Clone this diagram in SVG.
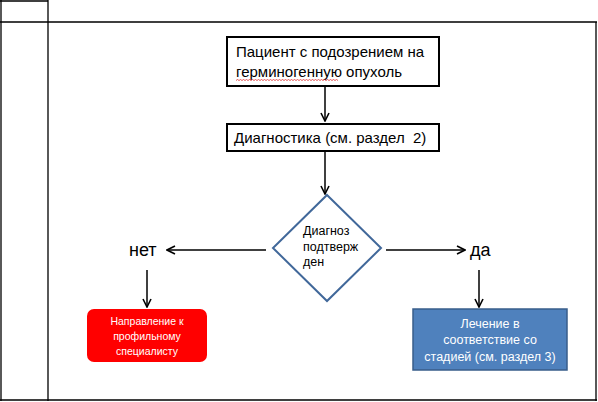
<svg xmlns="http://www.w3.org/2000/svg" width="598" height="402" viewBox="0 0 598 402">
<defs>
<marker id="ah" viewBox="0 0 10 10" refX="9" refY="5" markerWidth="10" markerHeight="10" markerUnits="userSpaceOnUse" orient="auto">
<path d="M1,1 L9,5 L1,9" fill="none" stroke="#000" stroke-width="1.6"/>
</marker>
</defs>
<style>
.t{font-family:"Liberation Sans",Arial,sans-serif;fill:#000}
.w{font-family:"Liberation Sans",Arial,sans-serif;fill:#fff;text-anchor:middle}
.box{fill:#fff;stroke:#000;stroke-width:2}
.ln{fill:none;stroke:#000;stroke-width:1.5}
.grid{fill:none;stroke:#000;stroke-width:1.3}
</style>
<rect width="598" height="402" fill="#fff"/>
<g id="table">
<path class="grid" d="M0,1 H48 M1,0 V401 M48,0 V401 M0,22 H597 M596,22 V401 M0,400 H597"/>
</g>
<g id="connectors">
<path class="ln" d="M325,86 V121" marker-end="url(#ah)"/>
<path class="ln" d="M325,152 V194" marker-end="url(#ah)"/>
<path class="ln" d="M266,250 H167" marker-end="url(#ah)"/>
<path class="ln" d="M386,250 H465" marker-end="url(#ah)"/>
<path class="ln" d="M147,270 V307" marker-end="url(#ah)"/>
<path class="ln" d="M479,270 V307" marker-end="url(#ah)"/>
</g>
<g id="node-patient">
<rect class="box" x="227" y="37" width="212" height="49"/>
<text class="t" font-size="15" x="236" y="57">Пациент с подозрением на</text>
<text class="t" font-size="15" x="236" y="77">герминогенную опухоль</text>
<path d="M236,80.5 l1.5,-1 l1.5,1 l1.5,-1 l1.5,1 l1.5,-1 l1.5,1 l1.5,-1 l1.5,1 l1.5,-1 l1.5,1 l1.5,-1 l1.5,1 l1.5,-1 l1.5,1 l1.5,-1 l1.5,1 l1.5,-1 l1.5,1 l1.5,-1 l1.5,1 l1.5,-1 l1.5,1 l1.5,-1 l1.5,1 l1.5,-1 l1.5,1 l1.5,-1 l1.5,1 l1.5,-1 l1.5,1 l1.5,-1 l1.5,1 l1.5,-1 l1.5,1 l1.5,-1 l1.5,1 l1.5,-1 l1.5,1 l1.5,-1 l1.5,1 l1.5,-1 l1.5,1 l1.5,-1 l1.5,1 l1.5,-1 l1.5,1 l1.5,-1 l1.5,1 l1.5,-1 l1.5,1 l1.5,-1 l1.5,1 l1.5,-1 l1.5,1 l1.5,-1 l1.5,1 l1.5,-1 l1.5,1 l1.5,-1 l1.5,1 l1.5,-1 l1.5,1 l1.5,-1 l1.5,1 l1.5,-1 l1.5,1 l1.5,-1 l1.5,1" fill="none" stroke="#e03030" stroke-width="0.8"/>
</g>
<g id="node-diagnostics">
<rect class="box" x="227" y="124" width="212" height="27"/>
<text class="t" font-size="15" x="234" y="143" xml:space="preserve">Диагностика (см. раздел  2)</text>
</g>
<g id="node-decision">
<polygon points="327,195 381,248 327,301 273,248" fill="#fff" stroke="#41689a" stroke-width="2"/>
<text class="t" font-size="12.5" x="303" y="235">Диагноз</text>
<text class="t" font-size="12.5" x="303" y="251">подтверж</text>
<text class="t" font-size="12.5" x="303" y="266">ден</text>
</g>
<g id="label-no">
<text class="t" font-size="18" x="129" y="256">нет</text>
</g>
<g id="label-yes">
<text class="t" font-size="18" x="470" y="256">да</text>
</g>
<g id="node-referral">
<rect x="87" y="309" width="120" height="53" rx="7" fill="#ff0000"/>
<text class="w" font-size="10.5" x="147" y="325">Направление к</text>
<text class="w" font-size="10.5" x="147" y="340">профильному</text>
<text class="w" font-size="10.5" x="147" y="355">специалисту</text>
</g>
<g id="node-treatment">
<rect x="413" y="309" width="154" height="61" fill="#4f81bd" stroke="#385d8a" stroke-width="1.5"/>
<text class="w" font-size="12.5" x="490" y="328">Лечение в</text>
<text class="w" font-size="12.5" x="490" y="344">соответствие со</text>
<text class="w" font-size="12.5" x="490" y="361">стадией (см. раздел 3)</text>
</g>
</svg>
